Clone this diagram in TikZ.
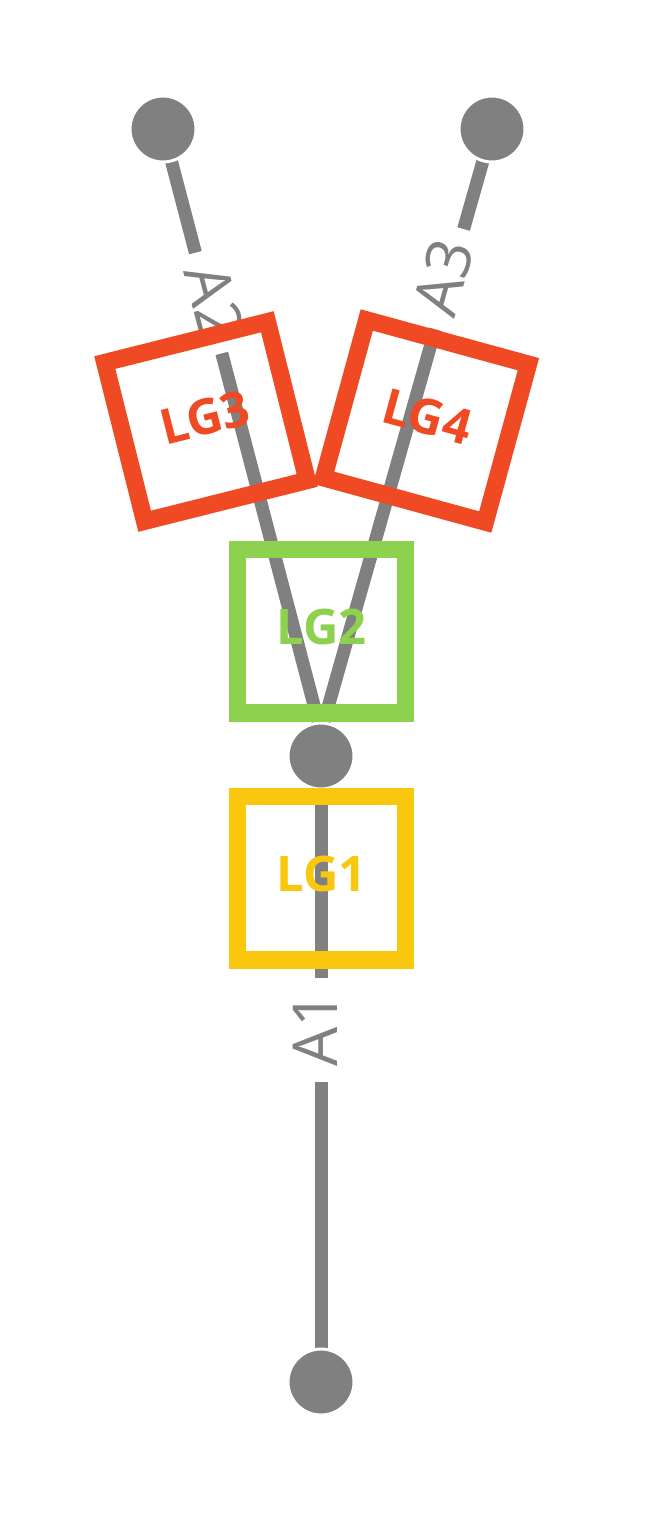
\documentclass[tikz,border=0pt]{standalone}
\usepackage{fontspec}
\newfontfamily\osans{Open Sans}
\usetikzlibrary{backgrounds,calc}
\definecolor{lggray}{HTML}{808080}
\definecolor{lgred}{HTML}{F04A24}
\definecolor{lggreen}{HTML}{8ED14F}
\definecolor{lgyellow}{HTML}{F9C80E}
\begin{document}
\begin{tikzpicture}[x=1pt,y=-1pt,
  station/.style={circle, fill=lggray, draw=white, line width=3pt, minimum size=66pt, inner sep=0pt},
  track/.style={draw=lggray, line width=13pt},
  tracklabel/.style={fill=white, text=lggray, inner sep=0pt, minimum width=104pt,
    font=\osans\fontsize{62}{62}\selectfont, yshift=6pt},
  lgbox/.style={draw, fill=none, line width=17.4pt, minimum width=167.6pt, minimum height=163.6pt,
    inner sep=0pt, text depth=9pt, font=\osans\bfseries\fontsize{49}{49}\selectfont}
]
\useasboundingbox (0,0) rectangle (649,1539);
% stations
\node[station] (c2) at (163,129) {};
\node[station] (c3) at (492,129) {};
\node[station] (mid) at (321,756) {};
\node[station] (bot) at (321,1382) {};
\coordinate (join) at ($(mid.center)+(0,-24)$);
% tracks
\begin{scope}[on background layer]
\draw[track] (c2.center) -- node[pos=0.2886, rotate=-75.3, tracklabel] (a2) {A2} (join) -- (mid.center);
\draw[track] (mid.center) -- (join) -- node[pos=0.751, rotate=74.2, tracklabel] (a3) {A3} (c3.center);
\draw[track] (bot.center) -- node[pos=0.563, rotate=90, tracklabel] (a1) {A1} (mid.center);
\end{scope}
% boxes
\node[lgbox, draw=lgyellow, text=lgyellow] (lg1) at (321.5,878) {LG1};
\node[lgbox, draw=lggreen, text=lggreen] (lg2) at (321.5,631) {LG2};
\node[lgbox, draw=lgred, text=lgred, rotate=14.1] (lg3) at (206,421.5) {LG3};
\node[lgbox, draw=lgred, text=lgred, rotate=-15.3] (lg4) at (426,421) {LG4};
\end{tikzpicture}
\end{document}
